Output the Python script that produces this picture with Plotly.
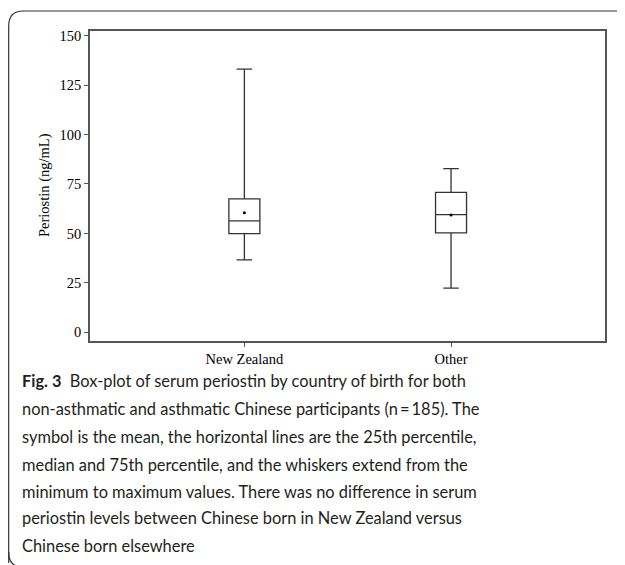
import plotly.graph_objects as go

# ---- data ----
categories = ["New Zealand", "Other"]
q_min = [36.6, 22.4]
q1 = [49.9, 50.3]
medians = [56.4, 59.5]
q3 = [67.5, 70.8]
q_max = [133.0, 82.8]
means = [60.5, 59.3]
y_ticks = [0, 25, 50, 75, 100, 125, 150]

caption_lines = [
    "<b>Fig. 3</b>  Box-plot of serum periostin by country of birth for both",
    "non-asthmatic and asthmatic Chinese participants (n\u2009=\u2009185). The",
    "symbol is the mean, the horizontal lines are the 25th percentile,",
    "median and 75th percentile, and the whiskers extend from the",
    "minimum to maximum values. There was no difference in serum",
    "periostin levels between Chinese born in New Zealand versus",
    "Chinese born elsewhere",
]

# page body has an 8px margin; work in figure pixel coords (page - 8)
OFF = 8
W, H = 617, 557
L, R, T, B = 90 - OFF, 605 - OFF, 31 - OFF, 341 - OFF  # plot area in pixels


def px(x):
    return (x - OFF - L) / (R - L)


def py(y):
    return (B - (y - OFF)) / (B - T)


fig = go.Figure()
fig.add_trace(go.Box(
    x=categories,
    q1=q1, median=medians, q3=q3,
    lowerfence=q_min, upperfence=q_max,
    fillcolor="white",
    line=dict(color="#333333", width=1.3),
    width=0.15,
    whiskerwidth=0.5,
    boxpoints=False,
    showlegend=False,
    hoverinfo="skip",
))
fig.add_trace(go.Scatter(
    x=categories, y=means, mode="markers",
    marker=dict(color="black", size=3),
    showlegend=False, hoverinfo="skip",
))

serif = "Liberation Serif, Times New Roman, serif"
fig.update_layout(
    width=W, height=H,
    margin=dict(l=L, r=W - R, t=T, b=H - B, pad=0),
    plot_bgcolor="white", paper_bgcolor="white",
    font=dict(family=serif, size=14.5, color="black"),
    xaxis=dict(
        range=[-0.747, 1.745],
        showline=True, linecolor="#555555", linewidth=1.5, mirror=True,
        ticks="outside", ticklen=4, tickcolor="#555555",
        showgrid=False, zeroline=False,
        tickfont=dict(family=serif, size=14.5, color="black"),
    ),
    yaxis=dict(
        range=[-4.35, 152.3],
        tickvals=y_ticks,
        showline=True, linecolor="#555555", linewidth=1.5, mirror=True,
        ticks="outside", ticklen=4, tickcolor="#555555",
        showgrid=False, zeroline=False,
        tickfont=dict(family=serif, size=14.5, color="black"),
    ),
)

# y-axis title
fig.add_annotation(
    text="Periostin (ng/mL)", textangle=-90,
    xref="paper", yref="paper", x=px(44), y=py(185),
    xanchor="center", yanchor="middle", showarrow=False,
    font=dict(family=serif, size=14.5, color="black"),
)

# caption
line_y = [381, 409, 436, 464, 491, 518, 545]
for txt, yy in zip(caption_lines, line_y):
    fig.add_annotation(
        text=txt, xref="paper", yref="paper",
        x=px(20), y=py(yy), xanchor="left", yanchor="middle",
        showarrow=False,
        font=dict(family="Lato, Open Sans, sans-serif", size=16.4, color="#231f20"),
    )

# outer rounded frame
path = (
    f"M {px(8.7)} {py(563)} L {px(8.7)} {py(26)} "
    f"Q {px(8.7)} {py(11)} {px(23)} {py(11)} L {px(640)} {py(11)}"
)
fig.add_shape(type="path", path=path, xref="paper", yref="paper",
              line=dict(color="#333333", width=1.2), layer="above")
fig.add_shape(type="path",
              path=f"M {px(8.7)} {py(552)} Q {px(8.7)} {py(563)} {px(16)} {py(566)}",
              xref="paper", yref="paper",
              line=dict(color="#333333", width=1.2), layer="above")

fig.write_html("out.html")
